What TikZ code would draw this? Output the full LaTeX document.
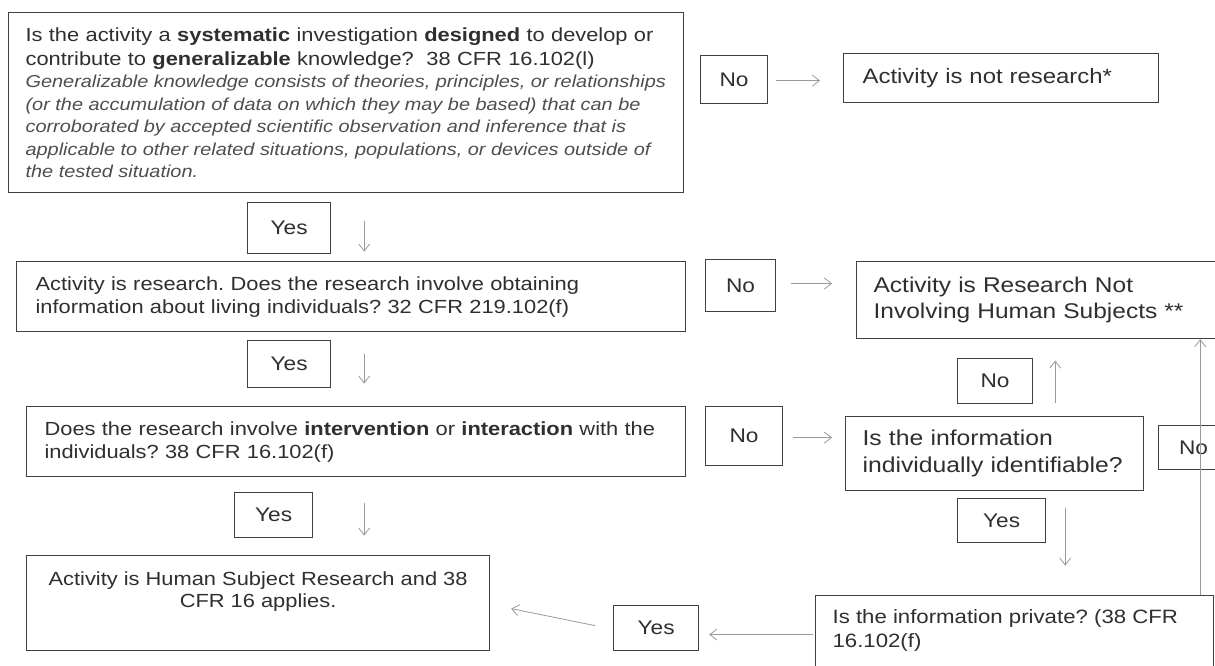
\documentclass[tikz,border=0pt]{standalone}
\usepackage{fontspec}
\setmainfont{Liberation Sans}[FakeStretch=1.15]
\usetikzlibrary{arrows.meta,calc}
\definecolor{lc}{HTML}{404040}
\definecolor{ac}{HTML}{9A9A9A}
\definecolor{tc}{HTML}{2F2F2F}
\definecolor{ic}{HTML}{4E4E4E}
\frenchspacing
\begin{document}
\begin{tikzpicture}[x=1pt,y=-1pt,
 bx/.style={draw=lc,line width=1.2pt,anchor=north west,inner ysep=0pt,text=tc,align=left},
 lb/.style={draw=lc,line width=1.2pt,anchor=north west,inner sep=0pt,text=tc,font=\fontsize{19.7}{22}\selectfont},
 arr/.style={draw=ac,line width=0.8pt,-{Straight Barb[length=7pt,width=11pt]}}]
\fill[white] (0,0) rectangle (1215,666);
\useasboundingbox (0,0) rectangle (1215,666);

% question 1
\node[bx,font=\fontsize{19}{24}\selectfont,minimum height=180pt,text width=641pt,inner xsep=17pt] (q1) at (8,12)
 {\mbox{Is the activity a \textbf{systematic} investigation \textbf{designed} to develop or}\\
  \mbox{contribute to \textbf{generalizable} knowledge?\ \ 38 CFR 16.102(l)}\par
  {\fontsize{17.3}{22.5}\selectfont\itshape\color{ic}\spaceskip=0pt\xspaceskip=0pt
  \mbox{Generalizable knowledge consists of theories, principles, or relationships}\\
  \mbox{(or the accumulation of data on which they may be based) that can be}\\
  \mbox{corroborated by accepted scientific observation and inference that is}\\
  \mbox{applicable to other related situations, populations, or devices outside of}\\
  \mbox{the tested situation.}\par}};
\node[lb,minimum width=67pt,minimum height=48pt] (no1) at (700,55) {No};
\node[bx,font=\fontsize{20.8}{24}\selectfont,text width=277pt,inner xsep=19pt,minimum height=49pt] (nr) at (843,53) {Activity is not research*};

% question 2
\node[lb,minimum width=83pt,minimum height=51pt] (yes1) at (247,202) {Yes};
\node[bx,font=\fontsize{19}{23}\selectfont,text width=631pt,inner xsep=19pt,minimum height=70pt] (q2) at (16,261)
 {\mbox{Activity is research. Does the research involve obtaining}\\
  \mbox{information about living individuals? 32 CFR 219.102(f)}};
\node[lb,minimum width=70pt,minimum height=52pt] (no2) at (705,259) {No};
\node[bx,font=\fontsize{21.3}{26}\selectfont,text width=328pt,inner xsep=17pt,minimum height=77pt] (nhs) at (856,261)
 {Activity is Research Not\\Involving Human Subjects **};

% question 3
\node[lb,minimum width=83pt,minimum height=47pt] (yes2) at (247,340) {Yes};
\node[lb,minimum width=75pt,minimum height=45pt] (no3) at (957,358) {No};
\node[bx,font=\fontsize{19}{23}\selectfont,text width=623pt,inner xsep=18pt,minimum height=70pt] (q3) at (26,406)
 {\mbox{Does the research involve \textbf{intervention} or \textbf{interaction} with the}\\
  \mbox{individuals? 38 CFR 16.102(f)}};
\node[lb,minimum width=77pt,minimum height=59pt] (no4) at (705,406) {No};
\node[bx,font=\fontsize{21.5}{27}\selectfont,text width=264pt,inner xsep=17pt,minimum height=74pt] (ident) at (845,416)
 {Is the information\\individually identifiable?};
\node[lb,minimum width=70pt,minimum height=44pt] (no5) at (1158,425) {No};

% bottom row
\node[lb,minimum width=78pt,minimum height=45pt] (yes3) at (234,492) {Yes};
\node[lb,minimum width=88pt,minimum height=44pt] (yes4) at (957,498) {Yes};
\node[bx,inner xsep=0pt] (hsr) at (26,555)
 {\parbox[c][95pt][t]{463pt}{\centering\fontsize{19}{22}\selectfont
  \rule{0pt}{30pt}Activity is Human Subject Research and 38\\CFR 16 applies.}};
\node[bx,inner xsep=17pt] (priv) at (815,595)
 {\parbox[c][80pt][t]{364pt}{\raggedright\fontsize{19.3}{24}\selectfont
  \rule{0pt}{28pt}Is the information private? (38 CFR\\16.102(f)}};
\node[lb,minimum width=85pt,minimum height=45pt] (yes5) at (613,605) {Yes};

% connectors
\draw[arr] ($(no1.east)+(8,1)$) -- ($(nr.west)+(-23,2.5)$);
\draw[arr] ($(yes1.east)+(33,-7.5)$) -- ($(yes1.east)+(33,23.5)$);
\draw[arr] ($(no2.east)+(15,-2)$) -- ($(nhs.west)+(-24,-16.5)$);
\draw[arr] ($(yes2.east)+(33,-10.5)$) -- ($(yes2.east)+(33,19.5)$);
\draw[arr] ($(no3.east)+(22,21.5)$) -- ($(no3.east)+(22,-20.5)$);
\draw[arr] ($(no4.east)+(10,1.5)$) -- ($(ident.west)+(-13,-16)$);
\draw[arr] ($(yes3.east)+(51,-12.5)$) -- ($(yes3.east)+(51,20.5)$);
\draw[arr] ($(yes4.east)+(19,-13)$) -- ($(yes4.east)+(19,45)$);
\draw[arr] ($(priv.west)+(-2,-1)$) -- ($(yes5.east)+(10,6.5)$);
\draw[arr] ($(yes5.west)+(-18,-2.5)$) -- ($(hsr.east)+(21,5.5)$);
\coordinate (vl) at ($(priv.north east)+(-14,0)$);
\draw[arr] (vl) -- (vl |- nhs.south);
\end{tikzpicture}
\end{document}
